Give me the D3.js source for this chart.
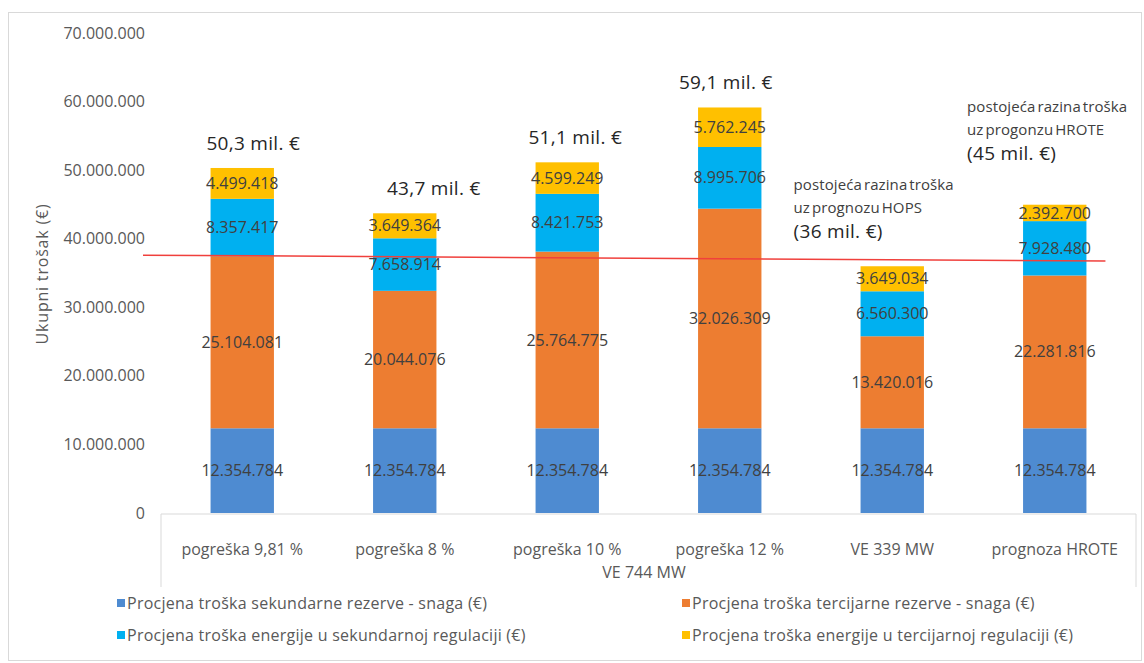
<!DOCTYPE html>
<html lang="hr">
<head>
    <meta charset="UTF-8">
    <title>Ukupni trošak</title>
    <script src="https://d3js.org/d3.v7.min.js"></script>
    <style>
        body { margin: 0; background: #fff; }
        svg text { font-family: "Open Sans", "Noto Sans", sans-serif; }
        .tick-label { font-size: 16px; fill: #595959; }
        .seg-label { font-size: 16px; fill: #404040; }
        .total-label { font-size: 19px; fill: #262626; letter-spacing: 0.3px; }
        .legend text { font-size: 16px; fill: #595959; letter-spacing: 0.25px; }
    </style>
</head>
<body>
    <svg id="chart" width="1144" height="663"></svg>

    <script>
        // kategorije i serije
        const categories = ["pogreška 9,81 %", "pogreška 8 %", "pogreška 10 %", "pogreška 12 %", "VE 339 MW", "prognoza HROTE"];
        const groupLabel = "VE 744 MW";

        const seriesNames = [
            "Procjena troška sekundarne rezerve - snaga (€)",
            "Procjena troška tercijarne rezerve - snaga (€)",
            "Procjena troška energije u sekundarnoj regulaciji (€)",
            "Procjena troška energije u tercijarnoj regulaciji (€)"
        ];
        const sekRezerva = [12354784, 12354784, 12354784, 12354784, 12354784, 12354784];
        const terRezerva = [25104081, 20044076, 25764775, 32026309, 13420016, 22281816];
        const sekEnergija = [8357417, 7658914, 8421753, 8995706, 6560300, 7928480];
        const terEnergija = [4499418, 3649364, 4599249, 5762245, 3649034, 2392700];
        const colors = ["#4e8bd1", "#ed7d31", "#00b0f0", "#ffc000"];

        const yTicks = [0, 10000000, 20000000, 30000000, 40000000, 50000000, 60000000, 70000000];
        const refLine = [37600000, 36750000];   // ručno ucrtana crvena linija

        const notes = [
            { cat: "VE 339 MW", level: 36000000, lines: ["postojeća razina troška", "uz prognozu HOPS", "(36 mil. €)"] },
            { cat: "prognoza HROTE", level: 45000000, lines: ["postojeća razina troška", "uz progonzu HROTE", "(45 mil. €)"] }
        ];
        const totalsFor = ["pogreška 9,81 %", "pogreška 8 %", "pogreška 10 %", "pogreška 12 %"];

        const svg = d3.select("#chart");
        const fmt = d3.formatLocale({ decimal: ",", thousands: ".", grouping: [3], currency: ["", "€"] }).format(",.0f");

        // okvir
        svg.append("rect")
            .attr("x", 8.5).attr("y", 12.5).attr("width", 1133).attr("height", 648)
            .attr("fill", "#fff").attr("stroke", "#d9d9d9");

        const x = d3.scaleBand().domain(categories).range([161, 1136]).paddingInner(0.61).paddingOuter(0.305);
        const y = d3.scaleLinear().domain([0, 70000000]).range([513, 33]);

        const rows = categories.map((c, i) => ({
            cat: c,
            vals: [sekRezerva[i], terRezerva[i], sekEnergija[i], terEnergija[i]]
        }));
        const stack = d3.stack().keys([0, 1, 2, 3]).value((d, k) => d.vals[k]);
        const stacked = stack(rows);

        // y os
        const yAxis = svg.append("g").attr("transform", "translate(145,0)")
            .call(d3.axisLeft(y).tickValues(yTicks).tickSize(0).tickPadding(0).tickFormat(d => fmt(d)));
        yAxis.select(".domain").remove();
        yAxis.selectAll("text").attr("class", "tick-label").attr("fill", null);

        svg.append("text")
            .attr("class", "tick-label")
            .attr("transform", "translate(48,274) rotate(-90)")
            .attr("text-anchor", "middle")
            .style("letter-spacing", "0.8px")
            .text("Ukupni trošak (€)");

        // stupci
        const layers = svg.append("g").selectAll("g").data(stacked).join("g")
            .attr("fill", (d, i) => colors[i]);
        layers.selectAll("rect").data(d => d).join("rect")
            .attr("x", d => x(d.data.cat))
            .attr("width", x.bandwidth())
            .attr("y", d => y(d[1]))
            .attr("height", d => y(d[0]) - y(d[1]));

        // oznake vrijednosti
        const lab = svg.append("g");
        stacked.forEach(layer => {
            lab.selectAll(null).data(layer).join("text")
                .attr("class", "seg-label")
                .attr("x", d => x(d.data.cat) + x.bandwidth() / 2)
                .attr("y", d => y((d[0] + d[1]) / 2))
                .attr("dy", "0.35em")
                .attr("text-anchor", "middle")
                .text(d => fmt(d[1] - d[0]));
        });

        // x os
        const axisY = y(0) + 1;
        svg.append("line").attr("x1", 161).attr("x2", 1136).attr("y1", axisY).attr("y2", axisY)
            .attr("stroke", "#d9d9d9");
        [161, 1136].forEach(px => svg.append("line")
            .attr("x1", px).attr("x2", px).attr("y1", axisY).attr("y2", 587).attr("stroke", "#d9d9d9"));
        svg.append("g").selectAll("text").data(categories).join("text")
            .attr("class", "tick-label")
            .attr("x", d => x(d) + x.bandwidth() / 2)
            .attr("y", 549)
            .attr("dy", "0.35em")
            .attr("text-anchor", "middle")
            .text(d => d);
        svg.append("text").attr("class", "tick-label")
            .attr("x", 644).attr("y", 572).attr("dy", "0.35em")
            .attr("text-anchor", "middle").text(groupLabel);

        // ukupni iznosi
        const totalDx = [11, 29, 8, -4];
        svg.append("g").selectAll("text").data(rows.filter(r => totalsFor.includes(r.cat))).join("text")
            .attr("class", "total-label")
            .attr("x", (d, i) => x(d.cat) + x.bandwidth() / 2 + totalDx[i])
            .attr("y", d => y(d3.sum(d.vals)) - 25)
            .attr("dy", "0.35em")
            .attr("text-anchor", "middle")
            .text(d => (d3.sum(d.vals) / 1e6).toFixed(1).replace(".", ",") + " mil. €");

        // crvena linija
        svg.append("line")
            .attr("x1", x.range()[0] - 18)
            .attr("x2", x(categories[5]) + x.bandwidth() + 19)
            .attr("y1", y(refLine[0]))
            .attr("y2", y(refLine[1]))
            .attr("stroke", "#f0403c").attr("stroke-width", 1.5);

        // napomene
        const noteX = [-67, -56];
        const noteDy = [-76, -92];
        notes.forEach((n, i) => {
            const nx = x(n.cat) + noteX[i];
            const t = svg.append("text").attr("x", nx).attr("y", y(n.level) + noteDy[i]);
            n.lines.forEach((l, j) => {
                t.append("tspan")
                    .attr("x", nx)
                    .attr("dy", j === 0 ? 0 : (j === 1 ? 23 : 25))
                    .style("font-size", j === 2 ? "19px" : "15px")
                    .style("letter-spacing", j === 2 ? "0.3px" : "0.1px")
                    .style("word-spacing", j === 2 ? "0px" : "-2px")
                    .attr("fill", j === 2 ? "#262626" : "#404040")
                    .text(l);
            });
        });

        // legenda
        const legPos = [[117, 603], [682, 603], [117, 635], [682, 635]];
        const leg = svg.append("g").attr("class", "legend").selectAll("g").data(seriesNames).join("g")
            .attr("transform", (d, i) => `translate(${legPos[i][0]},${legPos[i][1]})`);
        leg.append("rect").attr("x", 0).attr("y", -4).attr("width", 8).attr("height", 8)
            .attr("fill", (d, i) => colors[i]);
        leg.append("text").attr("x", 10).attr("dy", "0.35em").text(d => d);
    </script>
</body>
</html>
